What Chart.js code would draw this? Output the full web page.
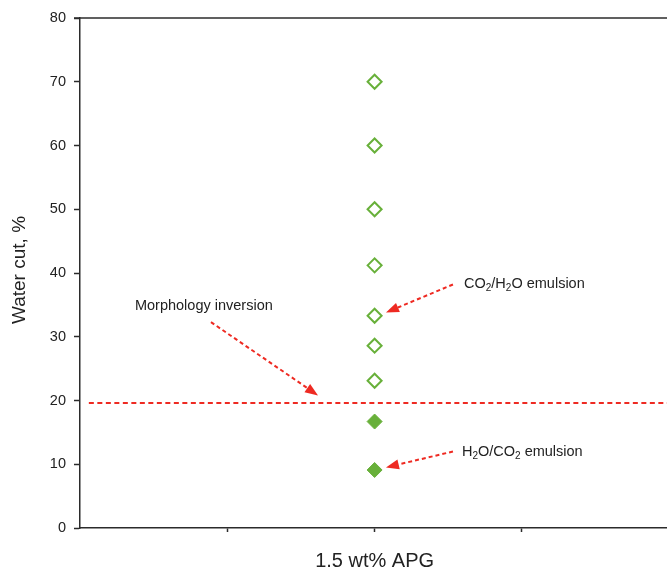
<!DOCTYPE html>
<html>
<head>
    <title>Water cut vs emulsion morphology</title>
    <script src="https://cdn.jsdelivr.net/npm/chart.js"></script>
    <style>
        body { margin: 0; background: #fff; }
        #wrap { width: 667px; height: 570px; }
    </style>
</head>
<body>
    <div id="wrap"><canvas id="cutChart" width="667" height="570"></canvas></div>

    <script>
        // Category position on the x axis (single surfactant case)
        const categoryLabel = '1.5 wt% APG';
        const categoryX = 2;
        const xTickValues = [1, 2, 3];

        // Water cut values, %
        const co2InWater = [70, 60, 50, 41.2, 33.3, 28.6, 23.1];   // open diamonds
        const waterInCo2 = [16.7, 9.1];                           // filled diamonds
        const inversionCut = 19.6;

        const yTicks = [0, 10, 20, 30, 40, 50, 60, 70, 80];

        const GREEN = '#68b03a';
        const RED = '#ee2a22';
        const AXIS = '#2b2b2b';
        const FONT = '"Liberation Sans", Arial, sans-serif';

        // Annotations: text + dashed arrow, placed in data units
        const notes = [
            { parts: [['Morphology inversion']], tx: 0.373, ty: 34.8,
              from: [0.889, 32.3], to: [1.616, 20.8] },
            { parts: [['CO'], ['2', 'sub'], ['/H'], ['2', 'sub'], ['O emulsion']], tx: 2.607, ty: 38.2,
              from: [2.532, 38.2], to: [2.077, 33.8] },
            { parts: [['H'], ['2', 'sub'], ['O/CO'], ['2', 'sub'], [' emulsion']], tx: 2.593, ty: 11.9,
              from: [2.532, 12.0], to: [2.077, 9.5] }
        ];

        function drawRich(ctx, parts, x, y) {
            let cx = x;
            parts.forEach(p => {
                const sub = p[1] === 'sub';
                ctx.font = (sub ? '10px ' : '14.5px ') + FONT;
                ctx.fillText(p[0], cx, sub ? y + 4 : y);
                cx += ctx.measureText(p[0]).width;
            });
        }

        function drawArrow(ctx, x1, y1, x2, y2) {
            const ang = Math.atan2(y2 - y1, x2 - x1);
            const headLen = 13, headW = 5;
            const bx = x2 - Math.cos(ang) * headLen, by = y2 - Math.sin(ang) * headLen;
            ctx.save();
            ctx.strokeStyle = RED;
            ctx.lineWidth = 2;
            ctx.setLineDash([4, 3]);
            ctx.beginPath();
            ctx.moveTo(x1, y1);
            ctx.lineTo(bx, by);
            ctx.stroke();
            ctx.setLineDash([]);
            ctx.fillStyle = RED;
            ctx.beginPath();
            ctx.moveTo(x2, y2);
            ctx.lineTo(bx + Math.sin(ang) * headW, by - Math.cos(ang) * headW);
            ctx.lineTo(bx - Math.sin(ang) * headW, by + Math.cos(ang) * headW);
            ctx.closePath();
            ctx.fill();
            ctx.restore();
        }

        const decorations = {
            id: 'decorations',
            afterDraw(chart) {
                const { ctx, chartArea, scales } = chart;
                const xs = scales.x, ys = scales.y;
                ctx.save();
                // top frame line
                ctx.strokeStyle = AXIS;
                ctx.lineWidth = 1.5;
                ctx.beginPath();
                ctx.moveTo(chartArea.left - 6, chartArea.top);
                ctx.lineTo(chartArea.right, chartArea.top);
                ctx.stroke();

                // axis titles
                ctx.fillStyle = '#222';
                ctx.textBaseline = 'middle';
                ctx.textAlign = 'center';
                ctx.font = '20px ' + FONT;
                ctx.fillText(categoryLabel, xs.getPixelForValue(categoryX), 561);
                ctx.save();
                ctx.translate(20, 270);
                ctx.rotate(-Math.PI / 2);
                ctx.font = '19px ' + FONT;
                ctx.fillText('Water cut, %', 0, 0);
                ctx.restore();

                // notes
                ctx.textAlign = 'left';
                notes.forEach(n => {
                    drawRich(ctx, n.parts, xs.getPixelForValue(n.tx), ys.getPixelForValue(n.ty));
                    drawArrow(ctx,
                        xs.getPixelForValue(n.from[0]), ys.getPixelForValue(n.from[1]),
                        xs.getPixelForValue(n.to[0]), ys.getPixelForValue(n.to[1]));
                });
                ctx.restore();
            }
        };

        new Chart(document.getElementById('cutChart'), {
            type: 'scatter',
            data: {
                datasets: [
                    {
                        type: 'line',
                        data: [{ x: 0.06, y: inversionCut }, { x: 3.99, y: inversionCut }],
                        borderColor: RED,
                        borderWidth: 2,
                        borderDash: [5, 3.5],
                        pointRadius: 0,
                        fill: false
                    },
                    {
                        data: co2InWater.map(v => ({ x: categoryX, y: v })),
                        pointStyle: 'rectRot',
                        pointRadius: 7,
                        borderColor: GREEN,
                        borderWidth: 2,
                        backgroundColor: '#fff'
                    },
                    {
                        data: waterInCo2.map(v => ({ x: categoryX, y: v })),
                        pointStyle: 'rectRot',
                        pointRadius: 7.5,
                        borderColor: GREEN,
                        borderWidth: 1,
                        backgroundColor: GREEN
                    }
                ]
            },
            options: {
                responsive: false,
                animation: false,
                layout: { autoPadding: false, padding: { top: 18, right: 0, left: 0, bottom: 0 } },
                plugins: {
                    legend: { display: false },
                    tooltip: { enabled: false }
                },
                scales: {
                    x: {
                        type: 'linear',
                        min: 0,
                        max: 3.985,
                        afterBuildTicks: s => { s.ticks = xTickValues.map(v => ({ value: v })); },
                        afterFit: s => { s.height = 42; },
                        ticks: { display: false },
                        grid: { drawOnChartArea: false, tickLength: 4, tickColor: AXIS, tickWidth: 1.5 },
                        border: { color: AXIS, width: 1.5 }
                    },
                    y: {
                        min: 0,
                        max: 80,
                        afterBuildTicks: s => { s.ticks = yTicks.map(v => ({ value: v })); },
                        afterFit: s => { s.width = 80; },
                        ticks: {
                            color: '#222',
                            padding: 8,
                            font: { family: FONT, size: 14.5 }
                        },
                        grid: { drawOnChartArea: false, tickLength: 6, tickColor: AXIS, tickWidth: 1.5 },
                        border: { color: AXIS, width: 1.5 }
                    }
                }
            },
            plugins: [decorations]
        });
    </script>
</body>
</html>
